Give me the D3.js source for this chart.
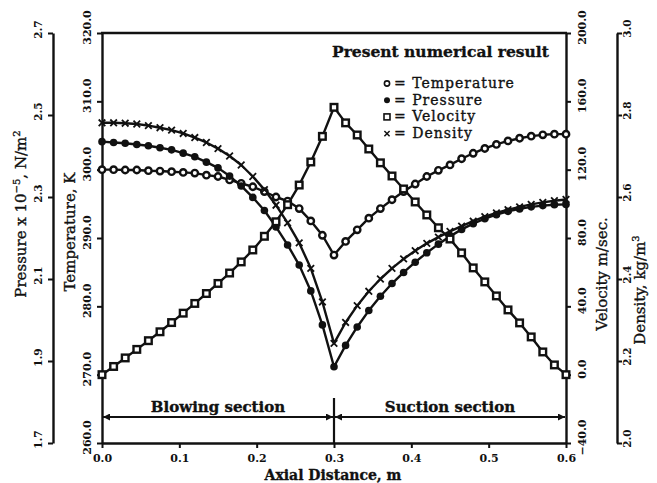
<!DOCTYPE html>
<html><head><meta charset="utf-8">
<script src="https://cdn.jsdelivr.net/npm/d3@7"></script>
<style>
body{margin:0;background:#fff}
svg{display:block}
text{font-family:"DejaVu Serif",serif;fill:#111}
.heavy{stroke:#111;stroke-width:0.35px}
</style>
</head><body>
<svg id="c" width="657" height="483"></svg>
<script>
// ---- data ----
const distance = [0,0.015,0.03,0.045,0.06,0.075,0.09,0.105,0.12,0.135,0.15,0.165,0.18,0.195,0.21,0.225,0.24,0.255,0.27,0.285,0.3,
  0.315,0.33,0.345,0.36,0.375,0.39,0.405,0.42,0.435,0.45,0.465,0.48,0.495,0.51,0.525,0.54,0.555,0.57,0.585,0.6];
const temperature = [300.0,300.0,299.95,299.95,299.85,299.8,299.7,299.6,299.5,299.2,299.0,298.5,298.0,297.5,296.8,296.0,295.4,294.3,292.5,290.4,287.5,
  289.5,291.2,292.9,294.3,295.6,296.8,297.9,299.0,299.9,300.7,301.6,302.4,303.1,303.7,304.2,304.6,304.9,305.1,305.2,305.2];
const pressure = [2.435,2.433,2.431,2.428,2.425,2.420,2.415,2.407,2.398,2.385,2.371,2.351,2.327,2.299,2.267,2.227,2.183,2.134,2.071,1.988,1.886,
  1.938,1.983,2.023,2.058,2.089,2.116,2.141,2.164,2.185,2.204,2.221,2.235,2.247,2.257,2.265,2.271,2.276,2.279,2.281,2.282];
const velocity = [0,4.8,9.8,14.8,19.9,25.1,30.5,36,41.7,47.5,53.4,59.5,66,73,81,89.5,99.5,111,124.5,139.5,156.5,
  147.4,140.3,132.1,124,116.3,108.7,101.1,93.5,86,79.4,71.3,62.5,54.3,46.1,37.9,30.3,22.1,13.3,5.7,0];
const density = [2.781,2.781,2.780,2.778,2.774,2.769,2.763,2.755,2.745,2.733,2.718,2.700,2.678,2.650,2.618,2.580,2.537,2.488,2.426,2.344,2.243,
  2.294,2.335,2.370,2.400,2.426,2.449,2.469,2.487,2.502,2.516,2.529,2.541,2.552,2.561,2.569,2.576,2.582,2.587,2.591,2.594];

const xTicks = [0,0.1,0.2,0.3,0.4,0.5,0.6];
const tempTicks = [260,270,280,290,300,310,320];
const pressTicks = [1.7,1.9,2.1,2.3,2.5,2.7];
const velTicks = [-40,0,40,80,120,160,200];
const densTicks = [2.0,2.2,2.4,2.6,2.8,3.0];
const legendTitle = "Present numerical result";
const legendLabels = ["= Temperature","= Pressure","= Velocity","= Density"];
const sections = [{name:"Blowing section", from:0, to:0.3}, {name:"Suction section", from:0.3, to:0.6}];

// ---- layout ----
const svg = d3.select("#c");
const L = 102, R = 566, T = 33, B = 443;
const x = d3.scaleLinear([0,0.6],[L,R]);
const yT = d3.scaleLinear([260,320],[B,T]);
const yP = d3.scaleLinear([1.7,2.7],[B,T]);
const yV = d3.scaleLinear([-40,200],[B,T]);
const yD = d3.scaleLinear([2.0,3.0],[B,T]);
const ink = "#111";

function styleAxis(g){
  g.select(".domain").attr("stroke",ink).attr("stroke-width",2.4);
  g.selectAll(".tick line").attr("stroke",ink).attr("stroke-width",2);
  g.selectAll(".tick text").attr("fill",ink).style("font-family","DejaVu Serif").style("font-weight","bold");
}
function rotLabels(g, base, shift, size){
  g.selectAll(".tick text").attr("transform","rotate(-90)")
    .attr("x", -shift).attr("y", base).attr("dy",0).attr("text-anchor","middle")
    .style("font-size", size+"px");
}

// frame top
svg.append("line").attr("x1",L-1).attr("x2",R+1).attr("y1",T).attr("y2",T).attr("stroke",ink).attr("stroke-width",2.4);

// temperature axis (left frame)
const gT = svg.append("g").attr("transform",`translate(${L},0)`)
  .call(d3.axisLeft(yT).tickValues(tempTicks).tickSize(5).tickSizeOuter(0).tickFormat(d3.format(".1f")));
styleAxis(gT); rotLabels(gT, -11, -6, 11);

// pressure axis (outer left bracket)
const gP = svg.append("g").attr("transform",`translate(53,0)`)
  .call(d3.axisLeft(yP).tickValues(pressTicks).tickSize(5).tickSizeOuter(0).tickFormat(d3.format(".1f")));
styleAxis(gP); rotLabels(gP, -11, -4, 10.5);

// velocity axis (right frame)
const gV = svg.append("g").attr("transform",`translate(${R},0)`)
  .call(d3.axisRight(yV).tickValues(velTicks).tickSize(5).tickSizeOuter(0).tickFormat(d3.format(".1f")));
styleAxis(gV); rotLabels(gV, 20, -6, 11);

// density axis (outer right bracket)
const gD = svg.append("g").attr("transform",`translate(617,0)`)
  .call(d3.axisRight(yD).tickValues(densTicks).tickSize(5).tickSizeOuter(0).tickFormat(d3.format(".1f")));
styleAxis(gD); rotLabels(gD, 14, -5, 10.5);

// x axis
const gX = svg.append("g").attr("transform",`translate(0,${B})`)
  .call(d3.axisBottom(x).tickValues(xTicks).tickSize(5).tickSizeOuter(0).tickFormat(d3.format(".1f")));
styleAxis(gX);
gX.selectAll(".tick text").attr("y",19).attr("dy",0).style("font-size","11px");

// axis titles
svg.append("text").attr("class","heavy").attr("transform","translate(333,480)").attr("text-anchor","middle")
  .style("font-size","14px").style("font-weight","bold").text("Axial Distance, m");
svg.append("text").attr("class","heavy").attr("transform","translate(75,232) rotate(-90)").attr("text-anchor","middle")
  .style("font-size","15px").text("Temperature, K");
const pt = svg.append("text").attr("class","heavy").attr("transform","translate(26,214) rotate(-90)").attr("text-anchor","middle")
  .style("font-size","15px");
pt.append("tspan").text("Pressure x 10");
pt.append("tspan").attr("dy",-6).style("font-size","10px").text("\u22125");
pt.append("tspan").attr("dy",6).text(", N/m");
pt.append("tspan").attr("dy",-6).style("font-size","10px").text("2");
svg.append("text").attr("class","heavy").attr("transform","translate(607,274) rotate(-90)").attr("text-anchor","middle")
  .style("font-size","15px").text("Velocity m/sec.");
const dt = svg.append("text").attr("class","heavy").attr("transform","translate(645,290) rotate(-90)").attr("text-anchor","middle")
  .style("font-size","15px");
dt.append("tspan").text("Density, kg/m");
dt.append("tspan").attr("dy",-6).style("font-size","10px").text("3");

// section arrows
const arrowY = 417;
svg.append("defs").append("marker").attr("id","ah").attr("viewBox","0 0 10 10").attr("refX",10).attr("refY",5)
  .attr("markerWidth",9).attr("markerHeight",7).attr("markerUnits","userSpaceOnUse").attr("orient","auto-start-reverse")
  .append("path").attr("d","M0,0L10,5L0,10Z").attr("fill",ink);
sections.forEach(s=>{
  svg.append("line").attr("x1",x(s.from)+1).attr("x2",x(s.to)-1).attr("y1",arrowY).attr("y2",arrowY)
    .attr("stroke",ink).attr("stroke-width",2).attr("marker-start","url(#ah)").attr("marker-end","url(#ah)");
  svg.append("text").attr("class","heavy").attr("x",x((s.from+s.to)/2)).attr("y",arrowY-5).attr("text-anchor","middle")
    .style("font-size","15px").style("font-weight","bold").text(s.name);
});
svg.append("line").attr("x1",x(0.3)).attr("x2",x(0.3)).attr("y1",398).attr("y2",B)
  .attr("stroke",ink).attr("stroke-width",2.2);

// series
const rows = distance.map((d,i)=>({d, t:temperature[i], p:pressure[i], v:velocity[i], r:density[i]}));
const plot = svg.append("g");
function drawLine(acc, ys){
  plot.append("path").datum(rows).attr("fill","none").attr("stroke",ink).attr("stroke-width",2.4)
    .attr("stroke-linejoin","round").attr("d", d3.line().x(r=>x(r.d)).y(r=>ys(acc(r))));
}
drawLine(r=>r.t, yT); drawLine(r=>r.p, yP); drawLine(r=>r.v, yV); drawLine(r=>r.r, yD);

// markers
plot.selectAll(".mt").data(rows).join("circle").attr("cx",r=>x(r.d)).attr("cy",r=>yT(r.t)).attr("r",3.2)
  .attr("fill","#fff").attr("stroke",ink).attr("stroke-width",2.4);
plot.selectAll(".mp").data(rows).join("circle").attr("cx",r=>x(r.d)).attr("cy",r=>yP(r.p)).attr("r",3.8)
  .attr("fill",ink);
plot.selectAll(".mv").data(rows).join("rect").attr("x",r=>x(r.d)-3.3).attr("y",r=>yV(r.v)-3.3)
  .attr("width",6.6).attr("height",6.6).attr("fill","#fff").attr("stroke",ink).attr("stroke-width",2.4);
const cross = "M-3.3,-3.3L3.3,3.3M-3.3,3.3L3.3,-3.3";
plot.selectAll(".md").data(rows).join("path").attr("transform",r=>`translate(${x(r.d)},${yD(r.r)})`)
  .attr("d",cross).attr("stroke",ink).attr("stroke-width",1.8);

// legend
svg.append("text").attr("class","heavy").attr("x",332).attr("y",57).style("font-size","15.5px").style("font-weight","bold").text(legendTitle);
const lg = svg.append("g");
legendLabels.forEach((lab,i)=>{
  const cy = 88 + i*16.7, sx = 387, sy = cy-4.5;
  if(i===0) lg.append("circle").attr("cx",sx).attr("cy",sy).attr("r",2.6).attr("fill","#fff").attr("stroke",ink).attr("stroke-width",1.6);
  if(i===1) lg.append("circle").attr("cx",sx).attr("cy",sy).attr("r",3).attr("fill",ink);
  if(i===2) lg.append("rect").attr("x",sx-3).attr("y",sy-3).attr("width",6).attr("height",6).attr("fill","#fff").attr("stroke",ink).attr("stroke-width",1.6);
  if(i===3) lg.append("path").attr("transform",`translate(${sx},${sy})`).attr("d","M-2.6,-2.6L2.6,2.6M-2.6,2.6L2.6,-2.6").attr("stroke",ink).attr("stroke-width",1.5);
  lg.append("text").attr("class","heavy").attr("x",394).attr("y",cy).style("font-size","14px").style("letter-spacing","1px").text(lab);
});
</script>
</body></html>
